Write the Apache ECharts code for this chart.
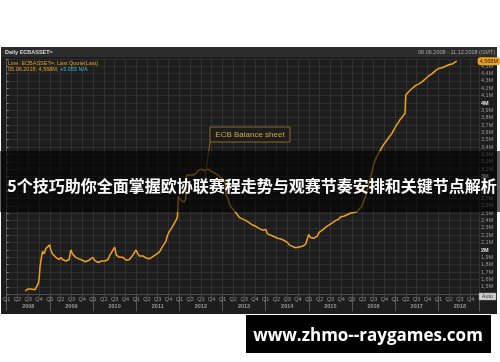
<!DOCTYPE html>
<html><head><meta charset="utf-8">
<script src="https://cdn.jsdelivr.net/npm/echarts@6/dist/echarts.min.js"></script>
<style>html,body{margin:0;padding:0;background:#fff}#c{width:500px;height:362px}</style>
</head><body><div id="c"></div>
<script>
// ECB total assets, weekly-ish readings (in "M" = million million EUR)
const dates = [
'2008-06-06','2008-06-27','2008-07-11','2008-07-25','2008-08-08','2008-08-29','2008-09-12','2008-09-26','2008-10-03','2008-10-10','2008-10-17','2008-10-24','2008-10-31','2008-11-14','2008-11-28','2008-12-12','2008-12-31',
'2009-01-09','2009-01-23','2009-02-06','2009-02-20','2009-03-06','2009-03-20','2009-04-03','2009-04-17','2009-05-01','2009-05-15','2009-05-29','2009-06-12','2009-06-26','2009-07-10','2009-07-24','2009-08-07','2009-08-21','2009-09-04','2009-09-18','2009-10-02','2009-10-16','2009-10-30','2009-11-13','2009-11-27','2009-12-11','2009-12-31',
'2010-01-15','2010-01-29','2010-02-12','2010-02-26','2010-03-12','2010-03-26','2010-04-09','2010-04-23','2010-05-07','2010-05-21','2010-06-04','2010-06-18','2010-07-02','2010-07-16','2010-07-30','2010-08-13','2010-08-27','2010-09-10','2010-09-24','2010-10-08','2010-10-22','2010-11-05','2010-11-19','2010-12-03','2010-12-17','2010-12-31',
'2011-01-14','2011-01-28','2011-02-11','2011-02-25','2011-03-11','2011-03-25','2011-04-08','2011-04-22','2011-05-06','2011-05-20','2011-06-03','2011-06-17','2011-07-01','2011-07-15','2011-07-29','2011-08-12','2011-08-26','2011-09-09','2011-09-23','2011-10-07','2011-10-21','2011-11-04','2011-11-18','2011-12-02','2011-12-16','2011-12-23','2011-12-30',
'2012-01-13','2012-01-27','2012-02-10','2012-02-24','2012-03-02','2012-03-16','2012-03-30','2012-04-13','2012-04-27','2012-05-11','2012-05-25','2012-06-08','2012-06-22','2012-07-06','2012-07-20','2012-08-03','2012-08-17','2012-08-31','2012-09-14','2012-09-28','2012-10-12','2012-10-26','2012-11-09','2012-11-23','2012-12-07','2012-12-21',
'2013-01-11','2013-01-25','2013-02-01','2013-02-15','2013-03-01','2013-03-15','2013-03-29','2013-04-12','2013-04-26','2013-05-10','2013-05-24','2013-06-07','2013-06-21','2013-07-05','2013-07-19','2013-08-02','2013-08-16','2013-08-30','2013-09-13','2013-09-27','2013-10-11','2013-10-25','2013-11-08','2013-11-22','2013-12-06','2013-12-20',
'2014-01-03','2014-01-17','2014-01-31','2014-02-14','2014-02-28','2014-03-14','2014-03-28','2014-04-11','2014-04-25','2014-05-09','2014-05-23','2014-06-06','2014-06-20','2014-07-04','2014-07-18','2014-08-01','2014-08-15','2014-08-29','2014-09-12','2014-09-26','2014-10-10','2014-10-24','2014-11-07','2014-11-21','2014-12-05','2014-12-19','2014-12-31',
'2015-01-16','2015-01-30','2015-02-13','2015-02-27','2015-03-13','2015-03-27','2015-04-10','2015-04-24','2015-05-08','2015-05-22','2015-06-05','2015-06-19','2015-07-03','2015-07-17','2015-07-31','2015-08-14','2015-08-28','2015-09-11','2015-09-25','2015-10-09','2015-10-23','2015-11-06','2015-11-20','2015-12-04','2015-12-18','2015-12-31',
'2016-01-15','2016-01-29','2016-02-12','2016-02-26','2016-03-11','2016-03-25','2016-04-08','2016-04-22','2016-05-06','2016-05-20','2016-06-03','2016-06-17','2016-07-01','2016-07-15','2016-07-29','2016-08-12','2016-08-26','2016-09-09','2016-09-23','2016-10-07','2016-10-21','2016-11-04','2016-11-18','2016-12-02','2016-12-16','2016-12-30',
'2017-01-13','2017-01-27','2017-02-10','2017-02-24','2017-03-10','2017-03-24','2017-03-31','2017-04-14','2017-04-28','2017-05-12','2017-05-26','2017-06-09','2017-06-23','2017-07-07','2017-07-21','2017-08-04','2017-08-18','2017-09-01','2017-09-15','2017-09-29','2017-10-13','2017-10-27','2017-11-10','2017-11-24','2017-12-08','2017-12-22',
'2018-01-05','2018-01-19','2018-02-02','2018-02-16','2018-03-02','2018-03-16','2018-03-30','2018-04-13','2018-04-27','2018-05-11','2018-05-25','2018-06-05'
];
const values = [
1.44,1.47,1.45,1.47,1.45,1.46,1.45,1.55,1.63,1.78,1.85,1.92,1.98,1.95,2.02,2.00,2.07,
2.00,1.95,1.93,1.90,1.88,1.87,1.90,1.87,1.86,1.85,1.86,1.87,2.00,1.95,1.93,1.90,1.89,1.88,1.87,1.86,1.85,1.84,1.85,1.86,1.87,1.90,
1.86,1.84,1.83,1.84,1.85,1.86,1.85,1.86,1.87,1.93,1.96,1.98,2.04,1.93,1.91,1.90,1.92,1.90,1.88,1.86,1.87,1.87,1.89,1.93,1.95,2.00,
1.95,1.92,1.91,1.92,1.90,1.89,1.90,1.88,1.90,1.91,1.92,1.94,1.96,1.97,1.98,2.05,2.08,2.12,2.20,2.25,2.28,2.30,2.36,2.40,2.45,2.73,2.73,
2.68,2.67,2.65,2.70,3.02,3.00,3.02,3.00,3.02,3.03,3.05,3.08,3.09,3.10,3.09,3.08,3.09,3.10,3.08,3.07,3.06,3.05,3.04,3.02,3.00,2.98,
2.95,2.90,2.75,2.70,2.62,2.58,2.57,2.53,2.50,2.47,2.44,2.43,2.42,2.40,2.40,2.38,2.37,2.36,2.34,2.33,2.32,2.30,2.29,2.28,2.27,2.25,
2.28,2.22,2.21,2.20,2.19,2.18,2.17,2.16,2.17,2.15,2.14,2.13,2.12,2.10,2.07,2.06,2.05,2.04,2.03,2.05,2.04,2.06,2.05,2.07,2.08,2.15,2.21,
2.17,2.16,2.16,2.17,2.19,2.24,2.25,2.27,2.29,2.31,2.33,2.34,2.36,2.37,2.38,2.40,2.41,2.42,2.45,2.45,2.46,2.47,2.48,2.49,2.50,2.50,
2.51,2.52,2.52,2.54,2.57,2.60,2.66,2.72,2.80,2.88,2.97,3.05,3.16,3.22,3.27,3.31,3.35,3.39,3.43,3.46,3.49,3.52,3.55,3.58,3.62,3.66,
3.70,3.73,3.77,3.80,3.83,3.86,4.11,4.13,4.16,4.18,4.20,4.22,4.24,4.25,4.26,4.28,4.29,4.31,4.33,4.35,4.37,4.38,4.40,4.42,4.44,4.46,
4.47,4.47,4.48,4.49,4.50,4.51,4.52,4.52,4.53,4.54,4.56,4.568
];
const lastValueLabel = '4,568M';
const titleText = '5个技巧助你全面掌握欧协联赛程走势与观赛节奏安排和关键节点解析';
const watermark = 'www.zhmo--raygames.com';
const calloutText = 'ECB Balance sheet';

// convert date -> month index since Jan 2008 (scale transform only)
function monthIndex(s){
  const [y,m,d] = s.split('-').map(Number);
  const dim = new Date(y, m, 0).getDate();
  return (y-2008)*12 + (m-1) + (d-1)/dim;
}
const seriesData = dates.map((d,i)=>[monthIndex(d), values[i]]);
const xMin = 0, xMax = monthIndex('2018-12-11');

const chart = echarts.init(document.getElementById('c'), null, {renderer:'canvas'});
const lblFont = 'Liberation Sans';
const baseX = {type:'value', min:xMin, max:xMax, gridIndex:0};
chart.setOption({
  backgroundColor:'#ffffff',
  animation:false,
  grid:{left:-15, right:21, top:58.9, bottom:67.9, show:false},
  xAxis:[
    Object.assign({}, baseX, {interval:3, position:'bottom',
      axisLine:{show:true, lineStyle:{color:'#4a4a4a', width:1}},
      axisTick:{show:true, length:3, lineStyle:{color:'#4a4a4a'}},
      splitLine:{show:true, lineStyle:{color:'#323232', width:1}},
      axisLabel:{show:true, color:'#9a9a9a', fontSize:5.5, fontFamily:lblFont, margin:2, showMinLabel:true, showMaxLabel:false,
        formatter:function(m){ if(Math.abs(m-Math.round(m))>1e-6) return ''; const k=((Math.round(m)%12)+12)%12; return 'Q'+(k/3+1);} }
    }),
    Object.assign({}, baseX, {interval:12, position:'bottom',
      axisLine:{show:false}, axisTick:{show:true, length:17, lineStyle:{color:'#555555'}},
      splitLine:{show:false}, axisLabel:{show:false}
    }),
    Object.assign({}, baseX, {interval:6, position:'bottom',
      axisLine:{show:false}, axisTick:{show:false}, splitLine:{show:false},
      axisLabel:{show:true, color:'#9a9a9a', fontSize:5.5, fontFamily:lblFont, fontWeight:'bold', margin:9, showMaxLabel:false,
        formatter:function(m){ const r=Math.round(m); if(Math.abs(m-r)>1e-6 || ((r%12)+12)%12!==6) return ''; return String(2008+(r-6)/12);} }
    })
  ],
  yAxis:{type:'value', position:'right', min:1.4, max:4.6, interval:0.1,
    axisLine:{show:true, lineStyle:{color:'#5a5a5a'}},
    axisTick:{show:true, length:2, lineStyle:{color:'#8a8a8a'}},
    splitLine:{show:true, lineStyle:{color:'#2e2e2e', width:1}},
    axisLabel:{show:true, color:'#9a9a9a', fontSize:5.5, fontFamily:lblFont, margin:2,
      rich:{b:{color:'#e6e6e6', fontWeight:'bold', fontSize:5.5, fontFamily:lblFont}},
      formatter:function(v){
        const t=Math.round(v*10)/10;
        if(t>=4.6-1e-6 || t<=1.4+1e-6) return '';
        if(Math.abs(t-Math.round(t))<1e-6) return '{b|'+Math.round(t)+'M}';
        return t.toFixed(1).replace('.',',')+'M';
      }},
    axisPointer:{show:true, type:'line', value:values[values.length-1], status:'show', triggerTooltip:false,
      lineStyle:{opacity:0}, handle:{show:false},
      label:{show:true, formatter:lastValueLabel, backgroundColor:'#f2a31c', color:'#1a1a1a', fontSize:5.5, fontFamily:lblFont, padding:[1,2,1,2], margin:1}}
  },
  series:[{type:'line', data:seriesData, xAxisIndex:0, yAxisIndex:0, showSymbol:false, symbol:'none',
    lineStyle:{color:'#f0a21e', width:1.5}, z:5, clip:true}],
  graphic:[
    {type:'rect', z:-100, silent:true, shape:{x:1, y:47, width:496, height:267}, style:{fill:'#1d1d1d'}},
    {type:'rect', z:-99, silent:true, shape:{x:1, y:47, width:496, height:10}, style:{fill:'#2c2c2c'}},
    {type:'text', z:50, left:5, top:49.5, style:{text:'Daily ECBASSET=', fill:'#d8d8d8', font:'bold 5.5px Liberation Sans'}},
    {type:'text', z:50, right:5, top:49.5, style:{text:'06.06.2008 - 11.12.2018 (GMT)', fill:'#a8a8a8', font:'5.5px Liberation Sans'}},
    {type:'text', z:50, left:8, top:60, style:{text:'Line: ECBASSET=; Last Quote(Last)', fill:'#e9a026', font:'5.5px Liberation Sans'}},
    {type:'text', z:50, left:8, top:66, style:{text:'{a|05.06.2018; 4,568M; }{c|+5.055 N/A}', rich:{a:{fill:'#e9a026', font:'5.5px Liberation Sans'}, c:{fill:'#2cc3d6', font:'5.5px Liberation Sans'}}}},
    {type:'rect', z:50, shape:{x:479, y:293, width:17, height:7}, style:{fill:'#d0d0d0', stroke:'#9a9a9a', lineWidth:0.5}},
    {type:'text', z:51, x:487.5, y:296.5, style:{text:'Auto', fill:'#303030', font:'5.5px Liberation Sans', textAlign:'center', textVerticalAlign:'middle'}},
    {type:'line', z:50, shape:{x1:210, y1:142, x2:205, y2:178}, style:{stroke:'#8c6a25', lineWidth:1}},
    {type:'rect', z:50, shape:{x:210, y:127, width:80, height:15}, style:{fill:'#1d1d1d', stroke:'#8c6a25', lineWidth:1}},
    {type:'text', z:51, x:250, y:134.5, style:{text:calloutText, fill:'#d9a441', font:'8px Liberation Sans', textAlign:'center', textVerticalAlign:'middle'}},
    {type:'rect', z:100, shape:{x:0, y:151, width:500, height:61}, style:{fill:'rgba(0,0,0,0.6)'}},
    {type:'text', z:101, x:252, y:186, style:{text:titleText, fill:'#ffffff', font:'bold 16px "Noto Sans CJK SC"', textAlign:'center', textVerticalAlign:'middle'}},
    {type:'rect', z:100, shape:{x:246, y:315, width:245, height:38}, style:{fill:'#000000'}},
    {type:'text', z:101, x:368, y:336, style:{text:watermark, fill:'#ffffff', font:'bold 17px "Open Sans"', textAlign:'center', textVerticalAlign:'middle'}}
  ]
});
</script></body></html>
